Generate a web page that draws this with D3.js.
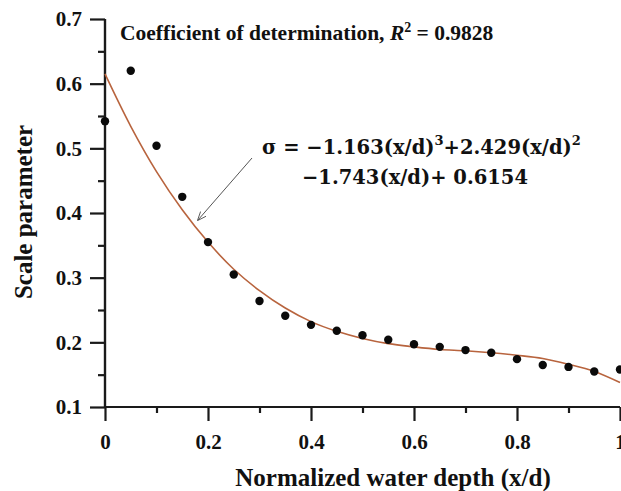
<!DOCTYPE html>
<html>
<head>
<meta charset="utf-8">
<script src="https://d3js.org/d3.v7.min.js"></script>
<style>
  body { margin: 0; background: #fff; }
  text { font-weight: bold; fill: #111; }
</style>
</head>
<body>
<div id="chart-area"></div>
<script>
// measured points
const depthX = [0, 0.05, 0.1, 0.15, 0.2, 0.25, 0.3, 0.35, 0.4, 0.45, 0.5, 0.55, 0.6, 0.65, 0.7, 0.75, 0.8, 0.85, 0.9, 0.95, 1.0];
const scaleY = [0.542, 0.620, 0.504, 0.425, 0.355, 0.305, 0.264, 0.241, 0.227, 0.218, 0.211, 0.204, 0.197, 0.193, 0.188, 0.184, 0.174, 0.165, 0.162, 0.155, 0.158];

// fitted curve
const fitX = [0, 0.05, 0.1, 0.15, 0.2, 0.25, 0.3, 0.35, 0.4, 0.45, 0.5, 0.55, 0.6, 0.65, 0.7, 0.75, 0.8, 0.85, 0.9, 0.95, 1.0];
const fitY = [0.615, 0.534, 0.464, 0.405, 0.355, 0.313, 0.280, 0.253, 0.232, 0.217, 0.206, 0.198, 0.193, 0.189, 0.187, 0.184, 0.180, 0.175, 0.166, 0.155, 0.138];

const xTicks = [0, 0.2, 0.4, 0.6, 0.8, 1];
const yTicks = [0.1, 0.2, 0.3, 0.4, 0.5, 0.6, 0.7];

const width = 621;
const height = 491;
const margin = {left: 105, right: 1, top: 19, bottom: 84};
const w = width - margin.left - margin.right;
const h = height - margin.top - margin.bottom;
const serif = "'Liberation Serif', 'Times New Roman', serif";
const mathFont = "'DejaVu Serif', serif";

const svg = d3.select("#chart-area")
    .append("svg")
    .attr("width", width)
    .attr("height", height)
    .style("font-family", serif);

svg.append("defs").append("marker")
    .attr("id", "arrow")
    .attr("viewBox", "0 0 10 10")
    .attr("refX", 9)
    .attr("refY", 5)
    .attr("markerWidth", 9)
    .attr("markerHeight", 9)
    .attr("orient", "auto")
  .append("path")
    .attr("d", "M0,1 L10,5 L0,9")
    .attr("fill", "none")
    .attr("stroke", "#555")
    .attr("stroke-width", 1);

const g = svg.append("g")
    .attr("transform", "translate(" + margin.left + "," + margin.top + ")");

const x = d3.scaleLinear().domain([0, 1]).range([0, w]);
const y = d3.scaleLinear().domain([0.1, 0.7]).range([h, 0]);

// minor ticks
const xAxisMinor = d3.axisBottom(x).tickValues(d3.range(0.1, 1, 0.2)).tickSize(6).tickFormat("");
const yAxisMinor = d3.axisLeft(y).tickValues(d3.range(0.15, 0.7, 0.1)).tickSize(7).tickFormat("");

g.append("g").attr("class", "axis minor").attr("transform", "translate(0," + h + ")").call(xAxisMinor);
g.append("g").attr("class", "axis minor").call(yAxisMinor);

const xAxis = d3.axisBottom(x).tickValues(xTicks).tickSize(14).tickPadding(13)
    .tickFormat(d => d === 0 ? "0" : d === 1 ? "1" : d3.format(".1f")(d));
const yAxis = d3.axisLeft(y).tickValues(yTicks).tickSize(15).tickPadding(8).tickFormat(d3.format(".1f"));

g.append("g").attr("class", "axis").attr("transform", "translate(0," + h + ")").call(xAxis);
g.append("g").attr("class", "axis").call(yAxis);

g.selectAll(".axis path, .axis line")
    .attr("stroke", "#1a1a1a")
    .attr("stroke-width", 2.2);
g.selectAll(".axis .domain").attr("d", function() {
    return d3.select(this.parentNode).attr("transform") ? "M0,0H" + w : "M0,0V" + h;
});
g.selectAll(".axis text")
    .style("font-size", "21px")
    .style("font-family", serif)
    .attr("fill", "#111");

// fitted line
const fit = fitX.map((d, i) => ({x: d, y: fitY[i]}));
g.append("path")
    .datum(fit)
    .attr("fill", "none")
    .attr("stroke", "#b8643e")
    .attr("stroke-width", 1.6)
    .attr("d", d3.line().x(d => x(d.x)).y(d => y(d.y)).curve(d3.curveCatmullRom));

// points
g.selectAll("circle")
    .data(depthX.map((d, i) => ({x: d, y: scaleY[i]})))
    .enter()
    .append("circle")
    .attr("cx", d => x(d.x))
    .attr("cy", d => y(d.y))
    .attr("r", 4.2)
    .attr("fill", "#0a0a0a");

// annotations
svg.append("text")
    .attr("x", 120)
    .attr("y", 40)
    .style("font-size", "21.5px")
    .html('Coefficient of determination, <tspan font-style="italic">R</tspan><tspan dy="-8" font-size="14px">2</tspan><tspan dy="8"> = 0.9828</tspan>');

svg.append("line")
    .attr("x1", 252).attr("y1", 158)
    .attr("x2", 198).attr("y2", 220)
    .attr("stroke", "#555")
    .attr("stroke-width", 1)
    .attr("marker-end", "url(#arrow)");

const eq = svg.append("g")
    .style("font-family", mathFont)
    .style("font-size", "19.5px");
eq.append("text")
    .attr("x", 262)
    .attr("y", 154)
    .html('σ = −1.163(x/d)<tspan dy="-9" font-size="13px">3</tspan><tspan dy="9">+2.429(x/d)</tspan><tspan dy="-9" font-size="13px">2</tspan>');
eq.append("text")
    .attr("x", 302)
    .attr("y", 184)
    .text("−1.743(x/d)+ 0.6154");

// axis labels
svg.append("text")
    .attr("x", 393)
    .attr("y", 486)
    .style("font-size", "25px")
    .attr("text-anchor", "middle")
    .text("Normalized water depth (x/d)");

svg.append("text")
    .attr("transform", "translate(32,212) rotate(-90)")
    .style("font-size", "25px")
    .attr("text-anchor", "middle")
    .text("Scale parameter");
</script>
</body>
</html>
